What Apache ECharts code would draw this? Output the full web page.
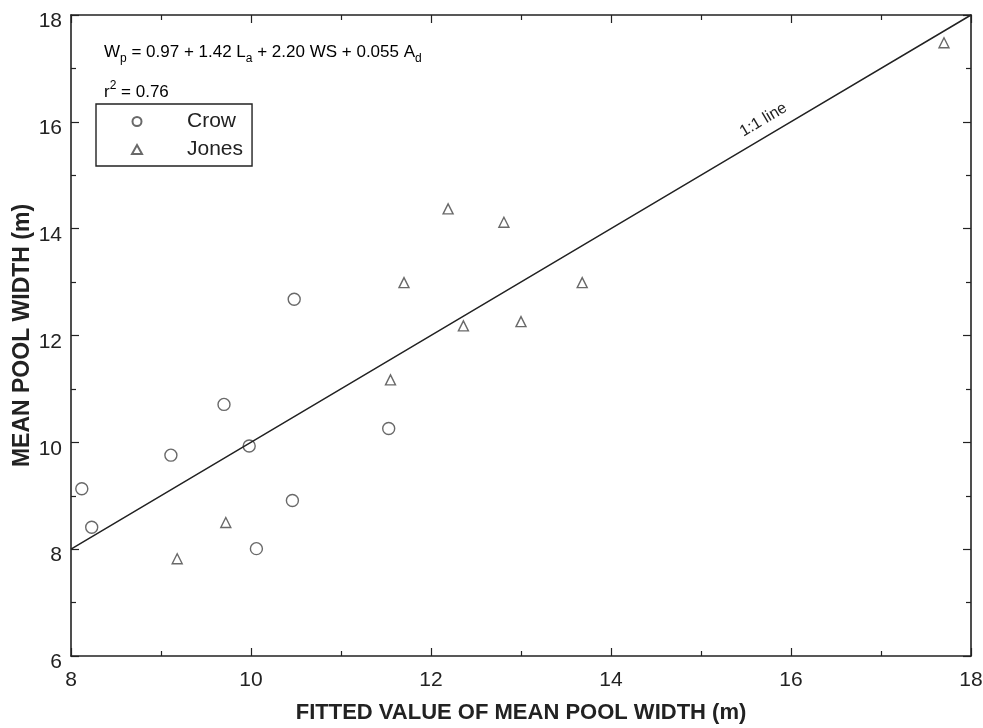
<!DOCTYPE html>
<html>
<head>
<meta charset="utf-8">
<script src="https://cdn.jsdelivr.net/npm/echarts@6/dist/echarts.min.js"></script>
<style>html,body{margin:0;padding:0;background:#fff}#c{width:983px;height:728px}</style>
</head>
<body>
<div id="c"></div>
<script>
// Data
const crowX = [10.48, 9.70, 9.98, 9.11, 8.12, 8.23, 10.46, 10.06, 11.53];
const crowY = [12.68, 10.71, 9.93, 9.76, 9.13, 8.41, 8.91, 8.01, 10.26];
const jonesX = [9.72, 9.18, 12.19, 12.81, 11.70, 13.68, 12.36, 13.00, 11.55, 17.70];
const jonesY = [8.50, 7.82, 14.37, 14.12, 12.99, 12.99, 12.18, 12.26, 11.17, 17.48];
const oneToOne = [8, 15.74, 18];
const xTicks = [8, 10, 12, 14, 16, 18];
const yTicks = [6, 8, 10, 12, 14, 16, 18];

const FONT = 'Liberation Sans, Arial, sans-serif';
const INK = '#222';
const MARK = '#444';

const chart = echarts.init(document.getElementById('c'));
const pairs = (xs, ys) => xs.map((x, i) => [x, ys[i]]);

const axisCommon = {
  type: 'value', interval: 2, splitLine: {show: false},
  axisLine: {show: true, onZero: false, lineStyle: {color: INK, width: 1.6}},
  axisTick: {show: true, inside: true, length: 8, lineStyle: {color: INK, width: 1.2}},
  minorTick: {show: true, splitNumber: 2, length: 5, lineStyle: {color: INK, width: 1.2}}
};

chart.setOption({
  backgroundColor: '#fff',
  animation: false,
  grid: {left: 71, right: 12, top: 15, bottom: 72, containLabel: false, outerBoundsMode: 'none'},
  xAxis: [
    Object.assign({}, axisCommon, {
      min: xTicks[0], max: xTicks[xTicks.length - 1], position: 'bottom',
      axisLabel: {color: INK, fontSize: 21, fontFamily: FONT, margin: 14},
      name: 'FITTED VALUE OF MEAN POOL WIDTH (m)', nameLocation: 'middle', nameGap: 46,
      nameMoveOverlap: false,
      nameTextStyle: {color: INK, fontSize: 22, fontWeight: 'bold', fontFamily: FONT}
    }),
    Object.assign({}, axisCommon, {
      min: xTicks[0], max: xTicks[xTicks.length - 1], position: 'top',
      axisLabel: {show: false}
    })
  ],
  yAxis: [
    Object.assign({}, axisCommon, {
      min: yTicks[0], max: yTicks[yTicks.length - 1], position: 'left',
      axisLabel: {color: INK, fontSize: 21, fontFamily: FONT, margin: 9,
        verticalAlign: 'top', lineHeight: 13},
      name: 'MEAN POOL WIDTH (m)', nameLocation: 'middle', nameGap: 37, nameRotate: 90,
      nameMoveOverlap: false,
      nameTextStyle: {color: INK, fontSize: 23, fontWeight: 'bold', fontFamily: FONT}
    }),
    Object.assign({}, axisCommon, {
      min: yTicks[0], max: yTicks[yTicks.length - 1], position: 'right',
      axisLabel: {show: false}
    })
  ],
  legend: {
    orient: 'vertical', left: 96, top: 104,
    data: ['Crow', 'Jones'],
    borderColor: INK, borderWidth: 1.4, borderRadius: 0,
    padding: [7, 9, 6, 35],
    itemWidth: 10, itemHeight: 9, itemGap: 7,
    textStyle: {color: INK, fontSize: 21, fontFamily: FONT, padding: [0, 0, 0, 40]}
  },
  series: [
    {
      name: 'Crow', type: 'scatter', data: pairs(crowX, crowY),
      symbol: 'circle', symbolSize: 12,
      itemStyle: {color: 'rgba(255,255,255,0)', borderColor: MARK, borderWidth: 1.4}
    },
    {
      name: 'Jones', type: 'scatter', data: pairs(jonesX, jonesY),
      symbol: 'triangle', symbolSize: 10,
      itemStyle: {color: 'rgba(255,255,255,0)', borderColor: MARK, borderWidth: 1.4}
    },
    {
      name: '1:1 line', type: 'line', silent: true,
      showSymbol: true, symbol: 'circle', symbolSize: 0,
      lineStyle: {color: INK, width: 1.5},
      data: oneToOne.map((v, i) => i === 1 ? {
        value: [v, v],
        label: {show: true, formatter: '1:1 line', position: 'top', distance: 9, rotate: 30.7,
          color: INK, fontSize: 16, fontFamily: FONT}
      } : {value: [v, v]})
    }
  ],
  graphic: [
    {
      type: 'text', left: 104, top: 44,
      style: {
        text: '{n|W}{s|p}{n| = 0.97 + 1.42 L}{s|a}{n| + 2.20 WS + 0.055 A}{s|d}',
        rich: {
          n: {fontSize: 17, fontFamily: FONT, color: INK, lineHeight: 24},
          s: {fontSize: 12, fontFamily: FONT, color: INK, lineHeight: 12, verticalAlign: 'bottom'}
        }
      }
    },
    {
      type: 'text', left: 104, top: 80,
      style: {
        text: '{n|r}{u|2}{n| = 0.76}',
        rich: {
          n: {fontSize: 17, fontFamily: FONT, color: INK, lineHeight: 24},
          u: {fontSize: 12, fontFamily: FONT, color: INK, lineHeight: 12, verticalAlign: 'top'}
        }
      }
    }
  ]
});
</script>
</body>
</html>
